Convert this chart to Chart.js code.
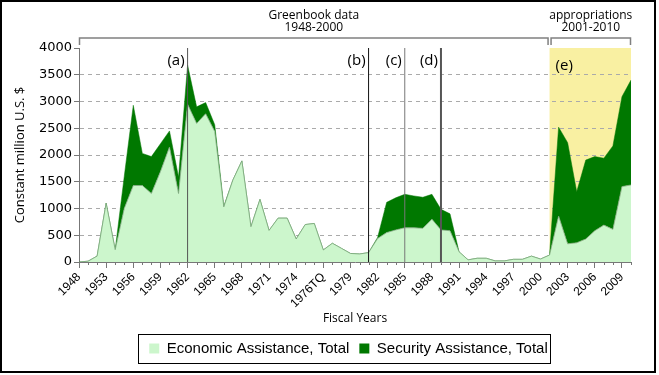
<!DOCTYPE html>
<html>
<head>
<meta charset="utf-8">
<script src="https://cdn.jsdelivr.net/npm/chart.js@4"></script>
<style>
  html, body { margin: 0; padding: 0; background: #fff; }
</style>
</head>
<body>
<canvas id="myChart" width="659" height="375"></canvas>
<script>
// fiscal years (1949-1950 missing in the source, 1976TQ = transition quarter)
const years = ['1948','1951','1952','1953','1954','1955','1956','1957','1958','1959',
  '1960','1961','1962','1963','1964','1965','1966','1967','1968','1969',
  '1970','1971','1972','1973','1974','1975','1976','1976TQ','1977','1978','1979',
  '1980','1981','1982','1983','1984','1985','1986','1987','1988','1989',
  '1990','1991','1992','1993','1994','1995','1996','1997','1998','1999',
  '2000','2001','2002','2003','2004','2005','2006','2007','2008','2009','2010'];

const economic = [0, 15, 110, 1100, 230, 1000, 1430, 1430, 1280, 1690,
  2150, 1280, 2950, 2590, 2770, 2440, 1030, 1530, 1890, 660,
  1170, 590, 820, 820, 430, 700, 720, 225, 350, 255, 160,
  150, 175, 440, 550, 600, 640, 640, 630, 800, 600,
  585, 190, 40, 70, 70, 20, 20, 50, 50, 110,
  55, 130, 860, 340, 360, 430, 585, 690, 610, 1410, 1440];

const security = [0, 0, 0, 0, 0, 600, 1500, 600, 690, 520,
  300, 310, 730, 310, 210, 125, 10, 0, 0, 0,
  0, 0, 0, 0, 0, 0, 0, 0, 0, 0, 0,
  0, 0, 20, 565, 600, 625, 595, 580, 465, 385,
  315, 0, 0, 0, 0, 0, 0, 0, 0, 0,
  0, 0, 1660, 1890, 955, 1475, 1385, 1250, 1560, 1680, 1960];

const xTickLabels = ['1948','1953','1956','1959','1962','1965','1968','1971','1974','1976TQ',
  '1979','1982','1985','1988','1991','1994','1997','2000','2003','2006','2009'];

const eventYears = ['1962', '1981', '1985', '1989'];
const eventLabels = ['(a)', '(b)', '(c)', '(d)'];
const periodStart = '2001';
const periodLabel = '(e)';
const brackets = [['Greenbook data', '1948-2000'], ['appropriations', '2001-2010']];

const eventStyle = [
  { color: '#555', width: 1 },
  { color: '#111', width: 1 },
  { color: '#777', width: 1 },
  { color: '#555', width: 2 }
];

const annotations = {
  id: 'annotations',
  afterLayout(chart) {
    // move legend under the plot like in the original
    chart.legend.left += 33;
    chart.legend.right += 33;
  },
  beforeDraw(chart) {
    const { ctx, chartArea: a, scales: { x } } = chart;
    const x0 = x.getPixelForValue(years.indexOf(periodStart));
    ctx.save();
    ctx.fillStyle = '#f9f0a2';
    ctx.fillRect(x0, a.top, a.right - x0, a.bottom - a.top);
    ctx.restore();
  },
  afterDatasetsDraw(chart) {
    const { ctx, chartArea: a, scales: { x } } = chart;
    ctx.save();
    ctx.font = '15px "Open Sans"';
    ctx.fillStyle = '#000';
    ctx.textBaseline = 'middle';
    eventYears.forEach((yr, i) => {
      const px = x.getPixelForValue(years.indexOf(yr));
      ctx.strokeStyle = eventStyle[i].color;
      ctx.lineWidth = eventStyle[i].width;
      ctx.beginPath();
      ctx.moveTo(px, a.top);
      ctx.lineTo(px, a.bottom);
      ctx.stroke();
      ctx.textAlign = 'right';
      ctx.fillText(eventLabels[i], px - 3, a.top + 13);
    });
    const pe = x.getPixelForValue(years.indexOf(periodStart));
    ctx.textAlign = 'left';
    ctx.fillText(periodLabel, pe + 6, a.top + 18);
    ctx.restore();
  },
  afterDraw(chart) {
    const { ctx, chartArea: a, scales: { x } } = chart;
    ctx.save();

    // minor ticks on the category axis
    ctx.strokeStyle = '#777';
    ctx.lineWidth = 1;
    years.forEach((yr, i) => {
      if (xTickLabels.includes(yr)) return;
      const px = Math.round(x.getPixelForValue(i)) + 0.5;
      ctx.beginPath();
      ctx.moveTo(px, a.bottom);
      ctx.lineTo(px, a.bottom + 3);
      ctx.stroke();
    });

    // brackets above the plot
    const pe = x.getPixelForValue(years.indexOf(periodStart));
    const spans = [[a.left + 0.5, pe - 1.5], [pe + 1.5, a.right - 0.5]];
    const by = a.top - 10;
    ctx.strokeStyle = '#808080';
    ctx.lineWidth = 1.5;
    ctx.font = '12px "Open Sans"';
    ctx.fillStyle = '#000';
    ctx.textAlign = 'center';
    ctx.textBaseline = 'middle';
    spans.forEach(([x1, x2], i) => {
      ctx.beginPath();
      ctx.moveTo(x1, by + 7);
      ctx.lineTo(x1, by);
      ctx.lineTo(x2, by);
      ctx.lineTo(x2, by + 7);
      ctx.stroke();
      ctx.fillText(brackets[i][0], (x1 + x2) / 2, by - 22);
      ctx.fillText(brackets[i][1], (x1 + x2) / 2, by - 10);
    });

    // box round the legend
    const hb = chart.legend.legendHitBoxes;
    const l = Math.min(...hb.map(h => h.left));
    const r = Math.max(...hb.map(h => h.left + h.width));
    const t = Math.min(...hb.map(h => h.top));
    const b = Math.max(...hb.map(h => h.top + h.height));
    ctx.strokeStyle = '#000';
    ctx.lineWidth = 1;
    ctx.strokeRect(Math.round(l - 11) + 0.5, Math.round(t - 7) + 0.5, Math.round(r - l + 14), Math.round(b - t + 14));

    // outer frame
    ctx.lineWidth = 2;
    ctx.strokeRect(1, 1, 654, 371);
    ctx.restore();
  }
};

Chart.defaults.font.family = '"Liberation Sans", Arial, sans-serif';

const ctx = document.getElementById('myChart');
const myChart = new Chart(ctx, {
  type: 'line',
  data: {
    labels: years,
    datasets: [
      {
        label: 'Economic Assistance, Total',
        data: economic,
        fill: 'origin',
        backgroundColor: '#ccf6cc',
        borderColor: '#7ba57b',
        borderWidth: 0.8,
        pointRadius: 0,
        tension: 0
      },
      {
        label: 'Security Assistance, Total',
        data: security,
        fill: '-1',
        backgroundColor: '#007800',
        borderColor: '#007800',
        borderWidth: 0.5,
        pointRadius: 0,
        tension: 0
      }
    ]
  },
  options: {
    responsive: false,
    animation: false,
    devicePixelRatio: 1,
    layout: { padding: { top: 48, right: 28, bottom: 9, left: 0 } },
    plugins: {
      tooltip: { enabled: false },
      legend: {
        position: 'bottom',
        labels: {
          boxWidth: 10,
          boxHeight: 10,
          padding: 10,
          color: '#000',
          font: { size: 15 },
          generateLabels: (chart) => Chart.defaults.plugins.legend.labels.generateLabels(chart)
            .map(item => Object.assign(item, { lineWidth: 0, strokeStyle: 'rgba(0,0,0,0)' }))
        }
      }
    },
    scales: {
      x: {
        grid: {
          drawOnChartArea: false,
          tickLength: 6,
          tickColor: (c) => xTickLabels.includes(years[c.index]) ? '#777' : 'rgba(0,0,0,0)'
        },
        border: { color: '#777' },
        ticks: {
          autoSkip: false,
          minRotation: 45,
          maxRotation: 45,
          padding: 2,
          color: '#000',
          font: { size: 12 },
          callback: (v, i) => xTickLabels.includes(years[i]) ? years[i] : ''
        },
        title: {
          display: true,
          text: 'Fiscal Years',
          color: '#000',
          font: { family: '"Open Sans"', size: 12 },
          padding: { top: 0, bottom: 5 }
        },
        afterFit: (s) => { s.height = 69; }
      },
      y: {
        stacked: true,
        min: 0,
        max: 4000,
        ticks: {
          stepSize: 500,
          padding: 2,
          color: '#000',
          font: { family: '"DejaVu Sans"', size: 13 },
          callback: (v) => String(v)
        },
        grid: {
          color: (c) => (c.tick && c.tick.value > 0 && c.tick.value < 4000) ? '#aaa' : 'rgba(0,0,0,0)',
          tickColor: '#777',
          tickLength: 5
        },
        border: { color: '#777', dash: [4, 4] },
        title: {
          display: true,
          text: 'Constant million U.S. $',
          color: '#000',
          font: { family: '"Open Sans"', size: 13 },
          padding: { top: 12, bottom: 0 }
        },
        afterFit: (s) => { s.width = 79; }
      }
    }
  },
  plugins: [annotations]
});
</script>
</body>
</html>
